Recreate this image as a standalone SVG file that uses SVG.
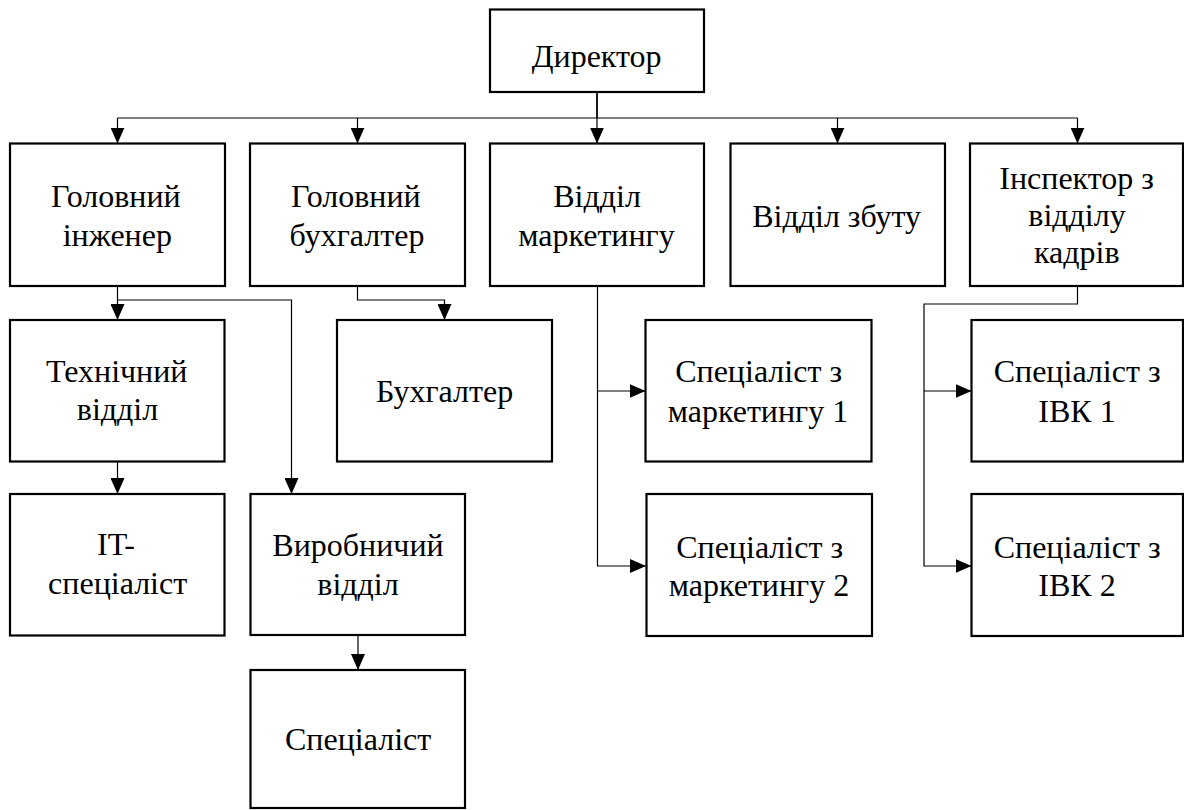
<svg xmlns="http://www.w3.org/2000/svg" width="1184" height="810" viewBox="0 0 1184 810">
<defs>
<marker id="ah" viewBox="0 0 16 14" refX="16" refY="7" markerWidth="16" markerHeight="14" markerUnits="userSpaceOnUse" orient="auto">
<path d="M0,0 L16,7 L0,14 z" fill="#000"/>
</marker>
</defs>
<rect width="1184" height="810" fill="#fff"/>
<g id="connectors" fill="none" stroke="#000" stroke-width="1.2">
<path d="M597,92 V118" stroke-width="1.8"/>
<path d="M117.5,118 H1077.5"/>
<path d="M117.5,118 V143.5" marker-end="url(#ah)"/>
<path d="M357.5,118 V143.5" marker-end="url(#ah)"/>
<path d="M597,118 V143.5" marker-end="url(#ah)"/>
<path d="M837.5,118 V143.5" marker-end="url(#ah)"/>
<path d="M1077.5,118 V143.5" marker-end="url(#ah)"/>
<path d="M117.5,286 V320" marker-end="url(#ah)"/>
<path d="M117.5,300 H291.5 V494" marker-end="url(#ah)"/>
<path d="M357.5,286 V300 H444.5 V320" marker-end="url(#ah)"/>
<path d="M117.5,462 V494" marker-end="url(#ah)"/>
<path d="M358,635 V670" marker-end="url(#ah)"/>
<path d="M597.5,286 V566 H646" marker-end="url(#ah)"/>
<path d="M597.5,391 H645.5" marker-end="url(#ah)"/>
<path d="M1077.5,286 V304 H924 V566 H971.5" marker-end="url(#ah)"/>
<path d="M924,391 H971.5" marker-end="url(#ah)"/>
</g>
<g id="director"><rect x="490" y="9.5" width="214" height="82.5" fill="#fff" stroke="#000" stroke-width="2.2"/><text x="531.7" y="67" font-family="Liberation Serif" font-size="32">Директор</text></g>
<g id="chief-engineer"><rect x="10" y="143.5" width="215" height="142.5" fill="#fff" stroke="#000" stroke-width="2.2"/><text x="51" y="207" font-family="Liberation Serif" font-size="32">Головний</text><text x="62.7" y="245.5" font-family="Liberation Serif" font-size="32">інженер</text></g>
<g id="chief-accountant"><rect x="250" y="143.5" width="215" height="142.5" fill="#fff" stroke="#000" stroke-width="2.2"/><text x="291" y="207" font-family="Liberation Serif" font-size="32">Головний</text><text x="289.6" y="245.5" font-family="Liberation Serif" font-size="32">бухгалтер</text></g>
<g id="marketing"><rect x="490" y="143.5" width="214" height="142.5" fill="#fff" stroke="#000" stroke-width="2.2"/><text x="553.2" y="207" font-family="Liberation Serif" font-size="32">Відділ</text><text x="518.2" y="245.5" font-family="Liberation Serif" font-size="32">маркетингу</text></g>
<g id="sales"><rect x="730.5" y="143.5" width="214.5" height="142.5" fill="#fff" stroke="#000" stroke-width="2.2"/><text x="752.2" y="227" font-family="Liberation Serif" font-size="32">Відділ збуту</text></g>
<g id="hr-inspector"><rect x="970" y="143.5" width="213" height="142.5" fill="#fff" stroke="#000" stroke-width="2.2"/><text x="999.3" y="189" font-family="Liberation Serif" font-size="32">Інспектор з</text><text x="1028.3" y="226" font-family="Liberation Serif" font-size="32">відділу</text><text x="1034" y="262.5" font-family="Liberation Serif" font-size="32">кадрів</text></g>
<g id="technical"><rect x="10" y="320" width="214.5" height="141.5" fill="#fff" stroke="#000" stroke-width="2.2"/><text x="45.9" y="381.5" font-family="Liberation Serif" font-size="32">Технічний</text><text x="76.8" y="420" font-family="Liberation Serif" font-size="32">відділ</text></g>
<g id="accountant"><rect x="337" y="320" width="215" height="141.5" fill="#fff" stroke="#000" stroke-width="2.2"/><text x="375.9" y="402" font-family="Liberation Serif" font-size="32">Бухгалтер</text></g>
<g id="marketing-spec-1"><rect x="645.5" y="320" width="226" height="141.5" fill="#fff" stroke="#000" stroke-width="2.2"/><text x="675.2" y="381.5" font-family="Liberation Serif" font-size="32">Спеціаліст з</text><text x="667.7" y="421.5" font-family="Liberation Serif" font-size="32">маркетингу 1</text></g>
<g id="hr-spec-1"><rect x="971.5" y="320" width="211.5" height="141.5" fill="#fff" stroke="#000" stroke-width="2.2"/><text x="993.7" y="381.5" font-family="Liberation Serif" font-size="32">Спеціаліст з</text><text x="1038.3" y="421.5" font-family="Liberation Serif" font-size="32">ІВК 1</text></g>
<g id="it-spec"><rect x="10" y="494" width="214.5" height="141.5" fill="#fff" stroke="#000" stroke-width="2.2"/><text x="97.1" y="555" font-family="Liberation Serif" font-size="32">IT-</text><text x="48.1" y="594" font-family="Liberation Serif" font-size="32">спеціаліст</text></g>
<g id="production"><rect x="250.5" y="494" width="214.5" height="141" fill="#fff" stroke="#000" stroke-width="2.2"/><text x="272.3" y="556" font-family="Liberation Serif" font-size="32">Виробничий</text><text x="317.3" y="595" font-family="Liberation Serif" font-size="32">відділ</text></g>
<g id="marketing-spec-2"><rect x="646.5" y="494" width="225.5" height="142" fill="#fff" stroke="#000" stroke-width="2.2"/><text x="676.2" y="557.5" font-family="Liberation Serif" font-size="32">Спеціаліст з</text><text x="668.7" y="596" font-family="Liberation Serif" font-size="32">маркетингу 2</text></g>
<g id="hr-spec-2"><rect x="971.5" y="494" width="211.5" height="142" fill="#fff" stroke="#000" stroke-width="2.2"/><text x="993.7" y="557.5" font-family="Liberation Serif" font-size="32">Спеціаліст з</text><text x="1038.3" y="596" font-family="Liberation Serif" font-size="32">ІВК 2</text></g>
<g id="specialist"><rect x="250.5" y="670" width="214.5" height="138" fill="#fff" stroke="#000" stroke-width="2.2"/><text x="285" y="750" font-family="Liberation Serif" font-size="32">Спеціаліст</text></g>
</svg>
